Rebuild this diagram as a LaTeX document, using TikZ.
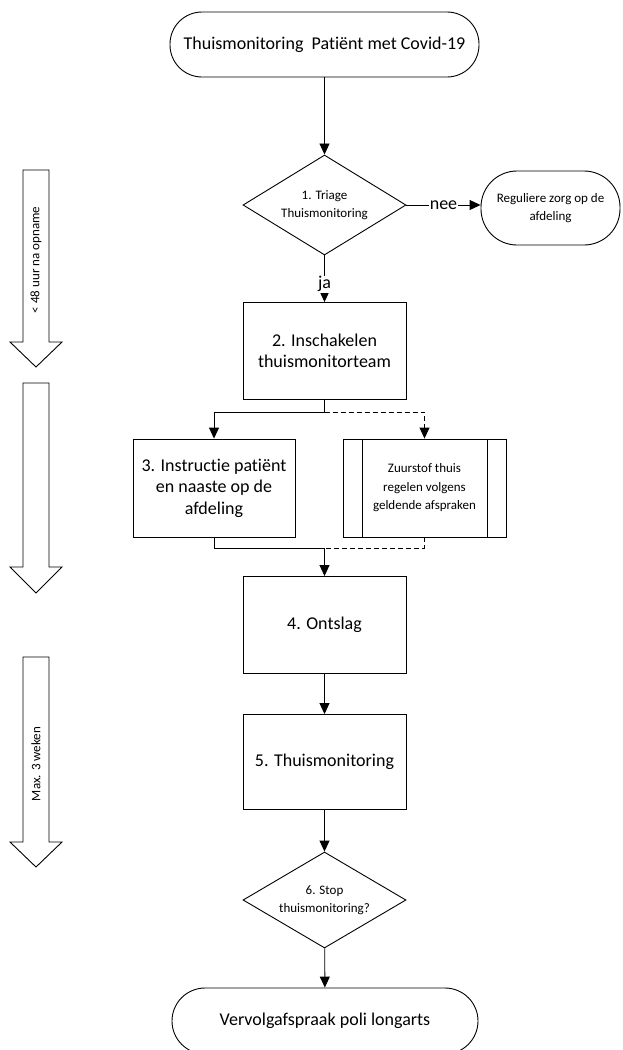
\documentclass[tikz,border=0pt]{standalone}
\usepackage{fontspec}
\setmainfont{Carlito}[Ligatures={NoCommon,NoRare}]
\usetikzlibrary{arrows.meta, shapes.geometric}

\begin{document}
\begin{tikzpicture}[x=1pt, y=-1pt, line width=0.9pt,
  big/.style={font=\fontsize{18}{21.5}\selectfont},
  small/.style={font=\fontsize{13}{18.5}\selectfont},
  box/.style={draw, big, align=center, minimum width=163pt, minimum height=97pt, inner sep=2pt},
  term/.style={draw, rounded corners=32pt, align=center, inner sep=2pt},
  dec/.style={draw, diamond, aspect=1.6, inner sep=0pt, small, align=center, minimum width=163pt, minimum height=98pt},
  arr/.style={-{Triangle[length=11pt,width=10pt]}}]
  \useasboundingbox (0,0) rectangle (622,1050);
  % Time bands along the left edge.
  \foreach \top/\neck/\tip in {170/342/367, 383/567/593, 657/842/867}
    \draw[fill=white] (23,\top) -- (49,\top) -- (49,\neck) -- (62,\neck) -- (36,\tip) -- (10,\neck) -- (23,\neck) -- cycle;
  \node[rotate=90, font=\fontsize{13}{15}\selectfont] (band1) at (36,260) {< 48 uur na opname};
  \node[rotate=90, font=\fontsize{13}{15}\selectfont] (band3) at (36,764) {Max. 3 weken};
  % Main flow, top to bottom.
  \node[term, big, minimum width=309pt, minimum height=65pt] (start) at (324.5,44.5) {Thuismonitoring\ \ Patiënt met Covid-19};
  \node[dec, minimum height=100pt] (triage) at (324.5,205) {1. Triage\\Thuismonitoring};
  \node[term, small, rounded corners=36pt, minimum width=139pt, minimum height=74pt] (regulier) at (550.5,208) {Reguliere zorg op de\\afdeling};
  \node[box] (team) at (324.5,351) {2. Inschakelen\\thuismonitorteam};
  \node[box, minimum width=162pt, minimum height=98pt] (instructie) at (214,488) {3. Instructie patiënt\\en naaste op de\\afdeling};
  \node[box, small, minimum height=98pt] (zuurstof) at (424.5,488) {Zuurstof thuis\\regelen volgens\\geldende afspraken};
  \draw ([xshift=20pt]zuurstof.north west) -- ([xshift=20pt]zuurstof.south west);
  \draw ([xshift=-19pt]zuurstof.north east) -- ([xshift=-19pt]zuurstof.south east);
  \node[box] (ontslag) at (324.5,625) {4. Ontslag};
  \node[box, minimum height=95pt] (monitoring) at (324.5,762) {5. Thuismonitoring};
  \node[dec, minimum height=96pt] (stop) at (324.5,900) {6. Stop\\thuismonitoring?};
  \node[term, big, rounded corners=33pt, minimum width=306pt, minimum height=66pt] (vervolg) at (325,1021) {Vervolgafspraak poli longarts};
  \coordinate (split) at (324.5,412);
  \coordinate (join) at (324.5,548);
  % Connectors.
  \draw[arr] (start) -- (triage);
  \draw[arr] (triage.east) -- (triage.east -| regulier.west) node[midway, fill=white, big, inner sep=1pt] {nee};
  \draw[arr] (triage) -- (team) node[pos=0.62, fill=white, big, inner sep=1pt] {ja};
  \draw (team) -- (split);
  \draw[arr] (split) -| (instructie.north);
  \draw[arr, dash pattern=on 5pt off 3pt] (split) -| (zuurstof.north);
  \draw (instructie.south) |- (join);
  \draw[dash pattern=on 5pt off 3pt] (zuurstof.south) |- (join);
  \draw[arr] (join) -- (ontslag);
  \draw[arr] (ontslag) -- (monitoring);
  \draw[arr] (monitoring) -- (stop);
  \draw[arr] (stop) -- (vervolg);
\end{tikzpicture}
\end{document}
